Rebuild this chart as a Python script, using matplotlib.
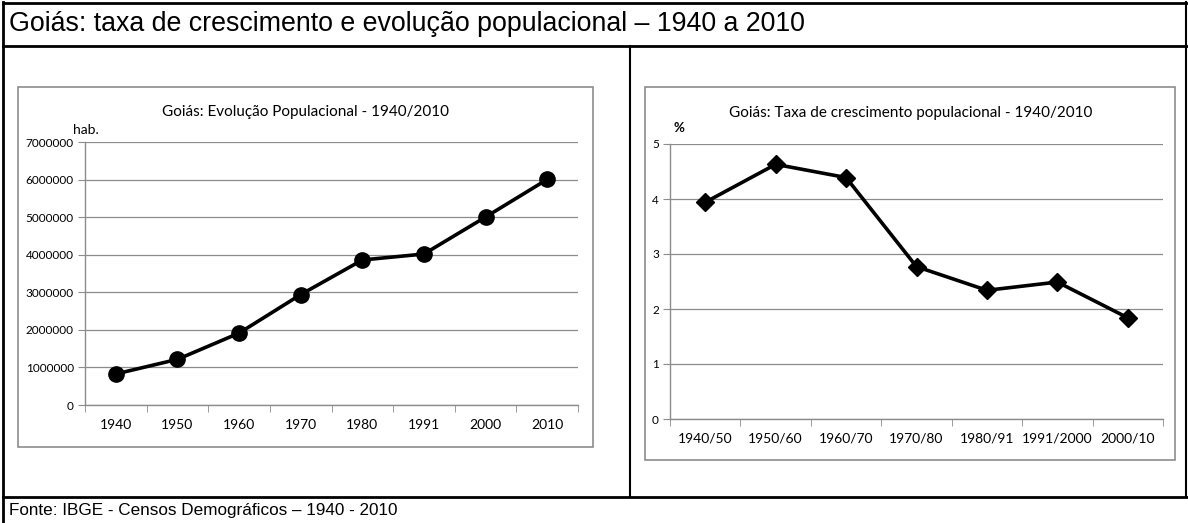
import matplotlib
matplotlib.use("Agg")
import matplotlib.pyplot as plt
from matplotlib.patches import Rectangle
from matplotlib.lines import Line2D

# dados
anos = ["1940", "1950", "1960", "1970", "1980", "1991", "2000", "2010"]
populacao = [826414, 1214921, 1913289, 2938677, 3859602, 4018903, 5003228, 6003788]

periodos = ["1940/50", "1950/60", "1960/70", "1970/80", "1980/91", "1991/2000", "2000/10"]
taxa = [3.94, 4.63, 4.39, 2.77, 2.34, 2.49, 1.84]

W, H = 1188, 523
fig = plt.figure(figsize=(W / 100, H / 100), dpi=100)
fig.patch.set_facecolor("white")

CHART_FONT = ["Lato", "DejaVu Sans"]
HEAD_FONT = ["Liberation Sans", "DejaVu Sans"]


def fx(px):
    return px / W


def fy(py):
    return 1 - py / H


def hline(y, x0, x1, lw=1.5, color="black"):
    fig.add_artist(Line2D([fx(x0), fx(x1)], [fy(y), fy(y)], color=color, lw=lw,
                          transform=fig.transFigure))


def vline(x, y0, y1, lw=1.5, color="black"):
    fig.add_artist(Line2D([fx(x), fx(x)], [fy(y0), fy(y1)], color=color, lw=lw,
                          transform=fig.transFigure))


# moldura externa
vline(3, 2, H, lw=2.0)
vline(1186, 2, 497, lw=1.5)
hline(3, 3, 1188, lw=2.0)
hline(46, 3, 1188, lw=2.0)
hline(497, 3, 1188, lw=2.0)
vline(630, 46, 497, lw=1.5)

fig.text(fx(9), fy(24), "Goiás: taxa de crescimento e evolução populacional – 1940 a 2010",
         family=HEAD_FONT, fontsize=19.3, va="center", ha="left")
fig.text(fx(9), fy(510), "Fonte: IBGE - Censos Demográficos – 1940 - 2010",
         family=HEAD_FONT, fontsize=12.3, va="center", ha="left")

# caixas dos gráficos
for x0, y0, x1, y1 in [(18, 87, 593, 447), (645, 87, 1175, 460)]:
    fig.add_artist(Rectangle((fx(x0), fy(y1)), fx(x1 - x0), (y1 - y0) / H,
                             transform=fig.transFigure, fill=False,
                             edgecolor="#8c8c8c", lw=1.2))


def estilo(ax, n, xsize):
    ax.set_xlim(-0.5, n - 0.5)
    for s in ["top", "right"]:
        ax.spines[s].set_visible(False)
    for s in ["left", "bottom"]:
        ax.spines[s].set_color("#8c8c8c")
        ax.spines[s].set_linewidth(1.0)
    ax.grid(axis="y", color="#8c8c8c", lw=0.9)
    ax.set_axisbelow(True)
    ax.set_xticks(range(n))
    ax.set_xticks([i - 0.5 for i in range(n + 1)], minor=True)
    ax.tick_params(axis="x", which="major", length=0, pad=10, labelsize=xsize)
    ax.tick_params(axis="x", which="minor", length=5, color="#8c8c8c", direction="out")
    ax.tick_params(axis="y", length=5, color="#8c8c8c", labelsize=8.5, pad=3)
    for lab in ax.get_xticklabels() + ax.get_yticklabels():
        lab.set_family(CHART_FONT)


# gráfico da esquerda
ax1 = fig.add_axes([fx(85), fy(405), fx(578 - 85), (405 - 142) / H])
ax1.plot(range(len(anos)), populacao, color="black", lw=2.6, marker="o", markersize=11)
ax1.set_ylim(0, 7000000)
ax1.set_yticks(range(0, 7000001, 1000000))
ax1.set_yticklabels([str(v) for v in range(0, 7000001, 1000000)])
ax1.set_xticklabels(anos)
estilo(ax1, len(anos), 10)
fig.text(fx(306), fy(112), "Goiás: Evolução Populacional - 1940/2010", family=CHART_FONT,
         fontsize=11, ha="center", va="center")
fig.text(fx(73), fy(130), "hab.", family=CHART_FONT, fontsize=10, ha="left", va="center")

# gráfico da direita
ax2 = fig.add_axes([fx(670), fy(419), fx(1163 - 670), (419 - 144) / H])
ax2.plot(range(len(periodos)), taxa, color="black", lw=2.6, marker="D", markersize=9)
ax2.set_ylim(0, 5)
ax2.set_yticks(range(0, 6))
ax2.set_xticklabels(periodos)
estilo(ax2, len(periodos), 10)
fig.text(fx(911), fy(113), "Goiás: Taxa de crescimento populacional - 1940/2010",
         family=CHART_FONT, fontsize=11, ha="center", va="center")
fig.text(fx(674), fy(128), "%", family=CHART_FONT, fontsize=9.5, ha="left", va="center",
         fontweight="bold")

fig.savefig("out.png", dpi=100)
